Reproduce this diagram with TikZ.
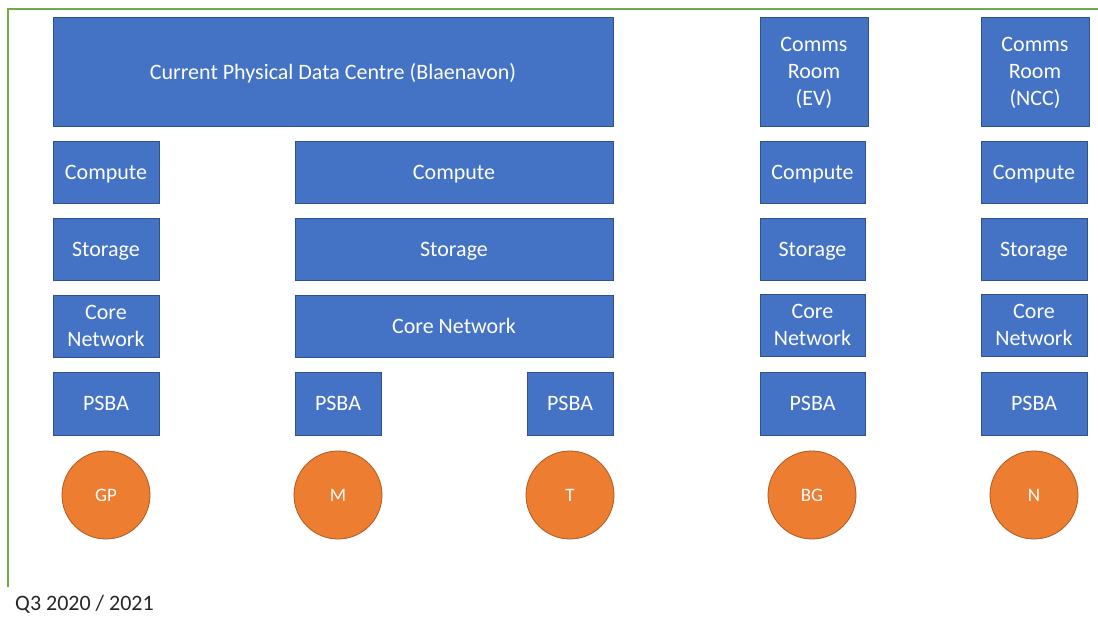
\documentclass[tikz,border=0pt]{standalone}
\usepackage{fontspec}
\setmainfont{Carlito}
\usepackage{tikz}
\definecolor{boxblue}{HTML}{4472C4}
\definecolor{boxedge}{HTML}{2F528F}
\definecolor{siteorange}{HTML}{ED7D31}
\definecolor{siteedge}{HTML}{AE5A21}
\definecolor{framegreen}{HTML}{70AD47}
\begin{document}
\begin{tikzpicture}[x=1pt,y=-1pt,
box/.style={draw=boxedge, fill=boxblue, text=white, line width=0.8pt, inner sep=0pt,
    align=center, text depth=0pt, font=\fontsize{22}{27}\selectfont, minimum height=62pt},
site/.style={circle, draw=siteedge, fill=siteorange, text=white, line width=0.8pt,
    inner sep=0pt, minimum size=88pt, font=\fontsize{19}{23}\selectfont}]
\useasboundingbox (0,0) rectangle (1098,616);
\draw[framegreen, line width=1.2pt] (1098,9) -- (8,9) -- (8,587);
% sites
\node[box, minimum width=560pt, minimum height=109pt] (dc) at (333,71.5) {Current Physical Data Centre (Blaenavon)};
\node[box, minimum width=108pt, minimum height=109pt] (ev) at (814,71.5) {Comms\\Room\\(EV)};
\node[box, minimum width=108pt, minimum height=109pt] (ncc) at (1035,71.5) {Comms\\Room\\(NCC)};
% compute
\node[box, minimum width=106pt] (gp-compute) at (106,172) {Compute};
\node[box, minimum width=318pt] (mt-compute) at (454,172) {Compute};
\node[box, minimum width=105pt] (bg-compute) at (812.5,172) {Compute};
\node[box, minimum width=106pt] (n-compute) at (1034,172) {Compute};
% storage
\node[box, minimum width=106pt] (gp-storage) at (106,249) {Storage};
\node[box, minimum width=318pt] (mt-storage) at (454,249) {Storage};
\node[box, minimum width=105pt] (bg-storage) at (812.5,249) {Storage};
\node[box, minimum width=106pt] (n-storage) at (1034,249) {Storage};
% core network
\node[box, minimum width=106pt] (gp-core) at (106,326) {Core\\Network};
\node[box, minimum width=318pt] (mt-core) at (454,326) {Core Network};
\node[box, minimum width=105pt] (bg-core) at (812.5,325) {Core\\Network};
\node[box, minimum width=106pt] (n-core) at (1034,325) {Core\\Network};
% psba
\node[box, minimum width=106pt, minimum height=63pt] (gp-psba) at (106,403.5) {PSBA};
\node[box, minimum width=86pt, minimum height=63pt] (m-psba) at (338,403.5) {PSBA};
\node[box, minimum width=86pt, minimum height=63pt] (t-psba) at (570,403.5) {PSBA};
\node[box, minimum width=105pt, minimum height=63pt] (bg-psba) at (812.5,403.5) {PSBA};
\node[box, minimum width=106pt, minimum height=63pt] (n-psba) at (1034,403.5) {PSBA};
% locations
\node[site] (gp) at (106,495) {GP};
\node[site] (m) at (338,495) {M};
\node[site] (t) at (570,495) {T};
\node[site] (bg) at (812,495) {BG};
\node[site] (n) at (1034,495) {N};
\node[anchor=base west, inner sep=0pt, text=black!85, font=\fontsize{22}{27}\selectfont] (year) at (15,610) {Q3 2020 / 2021};
\end{tikzpicture}
\end{document}
